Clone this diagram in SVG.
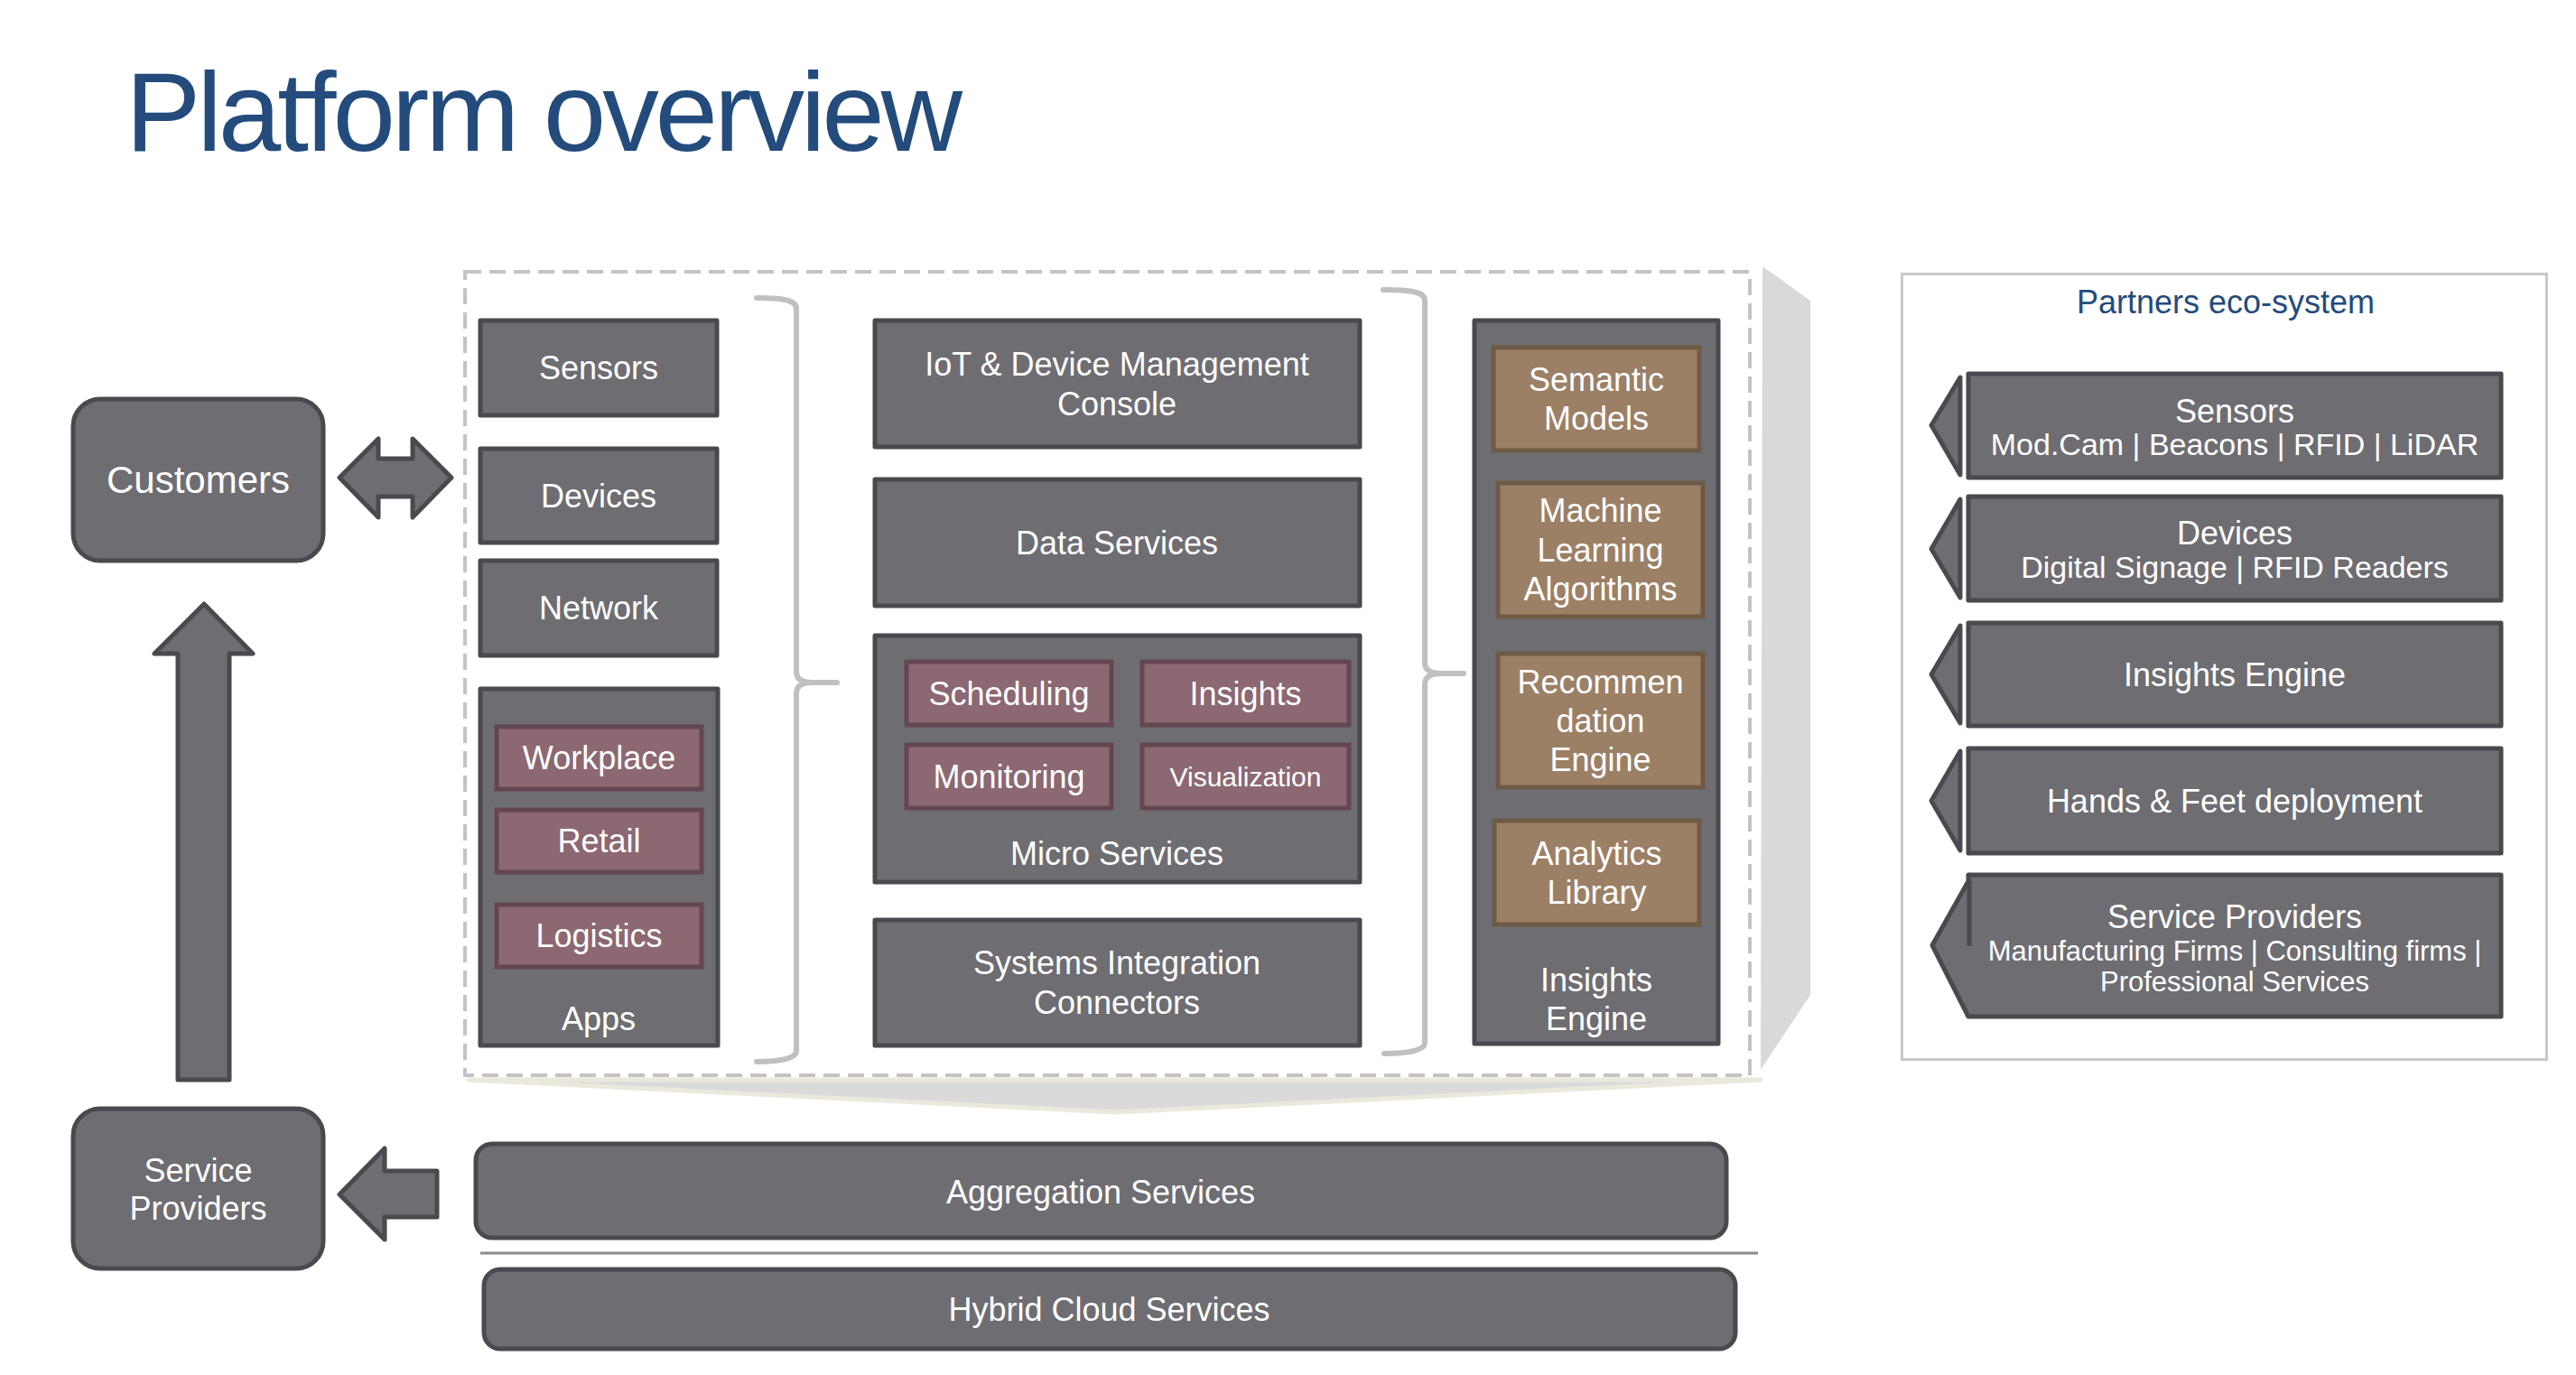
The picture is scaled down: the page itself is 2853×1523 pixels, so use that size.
<svg xmlns="http://www.w3.org/2000/svg" width="2853" height="1523" viewBox="0 0 2853 1523">
<style>
.box{fill:#6e6d72;stroke:#4a4950;stroke-width:5;stroke-linejoin:round}
.mauve{fill:#8c6872;stroke:#644650;stroke-width:5}
.brown{fill:#9b8066;stroke:#6e5a45;stroke-width:5}
.arrow{fill:#6e6d72;stroke:#4a4950;stroke-width:5;stroke-linejoin:round}
.brace{fill:none;stroke:#c0c0c0;stroke-width:6;stroke-linecap:round;stroke-linejoin:round}
.t{font-family:"Liberation Sans",Arial,Helvetica,sans-serif;fill:#ffffff;text-anchor:middle;font-size:36px}
.s34{font-size:34px}
.s31{font-size:31px}
.s30{font-size:30px}
.s42{font-size:42px}
.blue{fill:#234b7c}
</style>
<rect width="2853" height="1523" fill="#ffffff"/>
<text x="139" y="167" font-family="Liberation Sans, Arial, sans-serif" font-size="125" fill="#234b7c" textLength="927" lengthAdjust="spacing">Platform overview</text>

<g id="platform-frame">
<polygon points="1952,295 2005,333 2005,1102 1950,1185" fill="#d9d9d9"/>
<polygon points="519,1196 1950,1196 1237,1232" fill="#dadada" stroke="#ebe8dc" stroke-width="5" stroke-linejoin="round"/>
<rect x="515" y="301" width="1423" height="890" fill="none" stroke="#c3c3c3" stroke-width="4" stroke-dasharray="18 9"/>
</g>

<g id="connectors">
<polygon class="arrow" points="376,529 419,486 419,508 457,508 457,486 500,529 457,573 457,550 419,550 419,573"/>
<polygon class="arrow" points="226,669 280,724 254,724 254,1196 197,1196 197,724 171,724"/>
<polygon class="arrow" points="376,1323 426,1272 426,1297 484,1297 484,1348 426,1348 426,1373"/>
<path class="brace" d="M838,330 C866,330 882,332 882,342 L882,744 C882,752 888,756 900,756 L927,756 M900,756 C888,756 882,760 882,768 L882,1164 C882,1172 866,1176 838,1176"/>
<path class="brace" d="M1532,321 C1562,321 1578,323 1578,333 L1578,734 C1578,742 1584,746 1596,746 L1621,746 M1596,746 C1584,746 1578,750 1578,758 L1578,1155 C1578,1163 1562,1167 1533,1167"/>
<line x1="532" y1="1388" x2="1947" y2="1388" stroke="#8a8a8a" stroke-width="3"/>
</g>

<g id="customers">
<rect class="box" x="81" y="442" width="277" height="179" rx="30"/>
<text class="t s42" x="219.5" y="546">Customers</text>
</g>
<g id="service-providers">
<rect class="box" x="81" y="1228" width="277" height="177" rx="30"/>
<text class="t" x="219.5" y="1309">Service</text>
<text class="t" x="219.5" y="1351">Providers</text>
</g>

<g id="sensors">
<rect class="box" x="532" y="355" width="262" height="105"/>
<text class="t" x="663" y="420">Sensors</text>
</g>
<g id="devices">
<rect class="box" x="532" y="497" width="262" height="104"/>
<text class="t" x="663" y="562">Devices</text>
</g>
<g id="network">
<rect class="box" x="532" y="621" width="262" height="105"/>
<text class="t" x="663" y="686">Network</text>
</g>
<g id="apps">
<rect class="box" x="532" y="763" width="263" height="395"/>
<rect class="mauve" x="550" y="805" width="227" height="69"/>
<text class="t" x="663.5" y="852">Workplace</text>
<rect class="mauve" x="550" y="897" width="227" height="69"/>
<text class="t" x="663.5" y="944">Retail</text>
<rect class="mauve" x="550" y="1002" width="227" height="69"/>
<text class="t" x="663.5" y="1049">Logistics</text>
<text class="t" x="663" y="1141">Apps</text>
</g>

<g id="iot-console">
<rect class="box" x="969" y="355" width="537" height="140"/>
<text class="t" x="1237" y="416">IoT &amp; Device Management</text>
<text class="t" x="1237" y="460">Console</text>
</g>
<g id="data-services">
<rect class="box" x="969" y="531" width="537" height="140"/>
<text class="t" x="1237" y="614">Data Services</text>
</g>
<g id="micro-services">
<rect class="box" x="969" y="704" width="537" height="273"/>
<rect class="mauve" x="1004" y="733" width="227" height="70"/>
<text class="t" x="1117.5" y="781">Scheduling</text>
<rect class="mauve" x="1265" y="733" width="229" height="70"/>
<text class="t" x="1379.5" y="781">Insights</text>
<rect class="mauve" x="1004" y="825" width="227" height="70"/>
<text class="t" x="1117.5" y="873">Monitoring</text>
<rect class="mauve" x="1265" y="825" width="229" height="70"/>
<text class="t s30" x="1379.5" y="871">Visualization</text>
<text class="t" x="1237" y="958">Micro Services</text>
</g>
<g id="systems-integration">
<rect class="box" x="969" y="1019" width="537" height="139"/>
<text class="t" x="1237" y="1079">Systems Integration</text>
<text class="t" x="1237" y="1123">Connectors</text>
</g>

<g id="insights-engine">
<rect class="box" x="1633" y="355" width="270" height="801"/>
<rect class="brown" x="1654" y="385" width="228" height="114"/>
<text class="t" x="1768" y="433">Semantic</text>
<text class="t" x="1768" y="476">Models</text>
<rect class="brown" x="1659" y="535" width="227" height="148"/>
<text class="t" x="1772.5" y="578">Machine</text>
<text class="t" x="1772.5" y="622">Learning</text>
<text class="t" x="1772.5" y="665">Algorithms</text>
<rect class="brown" x="1659" y="724" width="227" height="148"/>
<text class="t" x="1772.5" y="768">Recommen</text>
<text class="t" x="1772.5" y="811">dation</text>
<text class="t" x="1772.5" y="854">Engine</text>
<rect class="brown" x="1655" y="909" width="227" height="115"/>
<text class="t" x="1768.5" y="958">Analytics</text>
<text class="t" x="1768.5" y="1001">Library</text>
<text class="t" x="1768" y="1098">Insights</text>
<text class="t" x="1768" y="1141">Engine</text>
</g>

<g id="aggregation-services">
<rect class="box" x="527" y="1267" width="1385" height="104" rx="18"/>
<text class="t" x="1219" y="1333">Aggregation Services</text>
</g>
<g id="hybrid-cloud-services">
<rect class="box" x="536" y="1406" width="1386" height="88" rx="18"/>
<text class="t" x="1228.5" y="1463">Hybrid Cloud Services</text>
</g>

<g id="partners-eco-system">
<rect x="2106.5" y="303.5" width="714" height="870" fill="none" stroke="#c8c8c8" stroke-width="3"/>
<text class="t blue" x="2465" y="347">Partners eco-system</text>
</g>
<g id="partner-sensors">
<polygon class="arrow" points="2171,418 2139,471 2171,526"/>
<rect class="box" x="2180" y="414" width="590" height="115"/>
<text class="t" x="2475" y="468">Sensors</text>
<text class="t s34" x="2475" y="504">Mod.Cam | Beacons | RFID | LiDAR</text>
</g>
<g id="partner-devices">
<polygon class="arrow" points="2171,553 2139,608 2171,662"/>
<rect class="box" x="2180" y="550" width="590" height="115"/>
<text class="t" x="2475" y="603">Devices</text>
<text class="t s34" x="2475" y="640">Digital Signage | RFID Readers</text>
</g>
<g id="partner-insights-engine">
<polygon class="arrow" points="2171,693 2139,747 2171,801"/>
<rect class="box" x="2180" y="690" width="590" height="114"/>
<text class="t" x="2475" y="760">Insights Engine</text>
</g>
<g id="partner-hands-feet">
<polygon class="arrow" points="2171,832 2139,887 2171,942"/>
<rect class="box" x="2180" y="829" width="590" height="116"/>
<text class="t" x="2475" y="900">Hands &amp; Feet deployment</text>
</g>
<g id="partner-service-providers">
<path class="arrow" d="M2180,969 H2770 V1126 H2180 L2140,1047 L2180,976 Z"/>
<line x1="2181" y1="976" x2="2181" y2="1048" stroke="#4a4950" stroke-width="5"/>
<text class="t" x="2475" y="1028">Service Providers</text>
<text class="t s31" x="2475" y="1064">Manufacturing Firms | Consulting firms |</text>
<text class="t s31" x="2475" y="1098">Professional Services</text>
</g>
</svg>
